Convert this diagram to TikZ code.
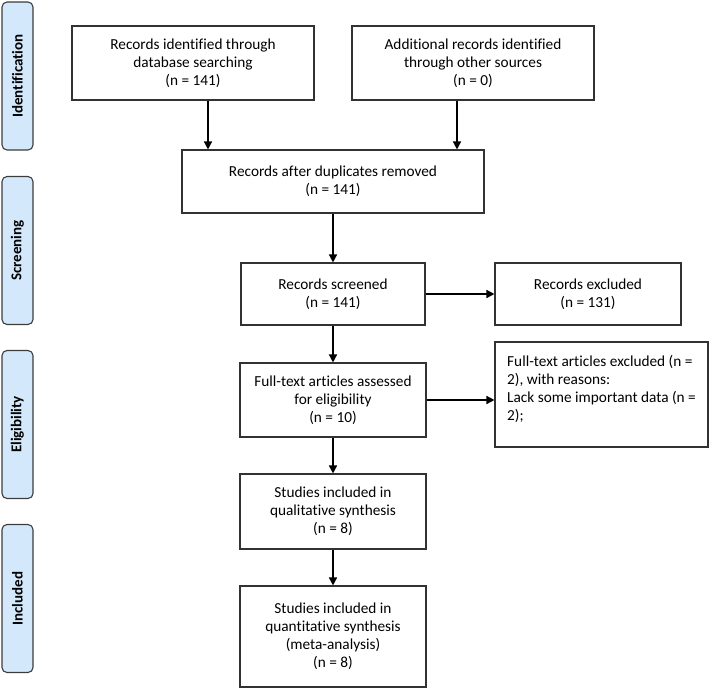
\documentclass[tikz,border=0pt]{standalone}
\usepackage{fontspec}
\setmainfont{Carlito}[Ligatures=NoCommon]
\usetikzlibrary{arrows.meta}
\definecolor{lblfill}{RGB}{211,233,251}
\definecolor{lbldraw}{RGB}{60,60,60}
\definecolor{boxdraw}{RGB}{50,50,50}
\tikzset{
  stage/.style={draw=lbldraw, line width=1.1pt, fill=lblfill, rounded corners=5pt,
    rotate=90, minimum width=148pt, minimum height=31pt, inner sep=0pt,
    font=\fontsize{15}{18}\selectfont\bfseries},
  flowbox/.style={draw=boxdraw, line width=1.1pt, rectangle, inner sep=0pt, align=center,
    font=\fontsize{15.3}{18}\selectfont},
  arr/.style={draw=black, line width=1.4pt, -{Triangle[length=8pt,width=8pt]}}
}
\begin{document}
\begin{tikzpicture}[x=1pt,y=-1pt]
\useasboundingbox (0,0) rectangle (709,688);
% stage labels
\node[stage] (sid) at (17.5,76) {Identification};
\node[stage] (sscr) at (17.5,250.5) {Screening};
\node[stage] (selig) at (17.5,424.5) {Eligibility};
\node[stage] (sinc) at (17.5,598.5) {Included};
% boxes
\node[flowbox, minimum width=242pt, minimum height=74pt] (b1) at (193,63)
  {Records identified through\\database searching\\(n = 141)};
\node[flowbox, minimum width=242pt, minimum height=74pt] (b2) at (473,63)
  {Additional records identified\\through other sources\\(n = 0)};
\node[flowbox, minimum width=302pt, minimum height=63pt] (dedup) at (333,181.5)
  {Records after duplicates removed\\(n = 141)};
\node[flowbox, minimum width=184pt, minimum height=62pt] (scr) at (333,294)
  {Records screened\\(n = 141)};
\node[flowbox, minimum width=186pt, minimum height=62pt] (excl) at (588,294)
  {Records excluded\\(n = 131)};
\node[flowbox, minimum width=186pt, minimum height=74pt] (ft) at (333,400)
  {Full-text articles assessed\\for eligibility\\(n = 10)};
\node[flowbox, minimum width=213pt, minimum height=105pt, align=left] (ftex) at (601.5,394.5)
  {Full-text articles excluded (n =\\2), with reasons:\\Lack some important data (n =\\2);\rule[-13pt]{0pt}{1pt}};
\node[flowbox, minimum width=186pt, minimum height=75pt] (qual) at (333,511.5)
  {Studies included in\\qualitative synthesis\\(n = 8)};
\node[flowbox, minimum width=186pt, minimum height=101pt] (quant) at (333,636.5)
  {Studies included in\\quantitative synthesis\\(meta-analysis)\\(n = 8)};
% connectors
\draw[arr] ([xshift=15pt]b1.south) -- ([xshift=15pt]b1.south |- dedup.north);
\draw[arr] ([xshift=-16pt]b2.south) -- ([xshift=-16pt]b2.south |- dedup.north);
\draw[arr] (dedup.south) -- (scr.north);
\draw[arr] (scr.east) -- (excl.west);
\draw[arr] (scr.south) -- (ft.north);
\draw[arr] (ft.east) -- (ft.east -| ftex.west);
\draw[arr] (ft.south) -- (qual.north);
\draw[arr] (qual.south) -- (quant.north);
\end{tikzpicture}
\end{document}
